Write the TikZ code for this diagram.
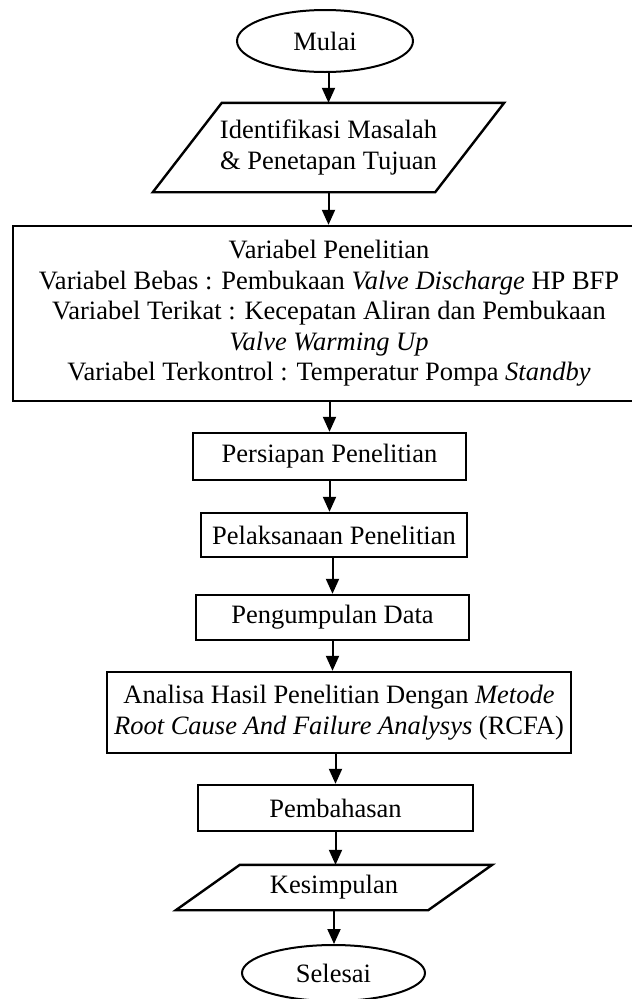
\documentclass[tikz,border=0pt]{standalone}
\usepackage{fontspec}
\setmainfont{Liberation Serif}
\usetikzlibrary{shapes.geometric,arrows.meta}
\begin{document}
\begin{tikzpicture}[x=1pt,y=-1pt,
  every node/.style={font=\fontsize{26.5}{30.5}\selectfont, inner sep=0pt, align=center},
  term/.style={ellipse, draw, line width=2pt},
  procbox/.style={rectangle, draw, line width=2.4pt},
  iobox/.style={rectangle},
  flow/.style={line width=2pt, -{Triangle[length=15pt,width=13pt]}},
  ioline/.style={line width=2.4pt, line join=miter}]
\useasboundingbox (0,0) rectangle (632,999);

\node[term, minimum width=176, minimum height=62] (mulai) at (325,41) {Mulai};

\node[iobox, minimum width=282, minimum height=89] (ident) at (328.5,147.5)
  {Identifikasi Masalah\\ \& Penetapan Tujuan};
\draw[ioline] ([xshift=34.5pt]ident.north west) -- ([xshift=34.5pt]ident.north east)
  -- ([xshift=-34.5pt]ident.south east) -- ([xshift=-34.5pt]ident.south west) -- cycle;

\node[procbox, minimum width=632, minimum height=175] (var) at (329,313.5)
  {Variabel Penelitian\\
   Variabel Bebas : Pembukaan \textit{Valve Discharge} HP BFP\\
   Variabel Terikat : Kecepatan Aliran dan Pembukaan\\
   \textit{Valve Warming Up}\\
   Variabel Terkontrol : Temperatur Pompa \textit{Standby}};

\node[procbox, minimum width=273, minimum height=47] (persiapan) at (329.5,456.5) {Persiapan Penelitian};
\node[procbox, minimum width=266, minimum height=44] (pelaksanaan) at (334,535) {Pelaksanaan Penelitian};
\node[procbox, minimum width=273, minimum height=45] (pengumpulan) at (332.5,617.5) {Pengumpulan Data};
\node[procbox, minimum width=464, minimum height=81] (analisa) at (339,712.5)
  {Analisa Hasil Penelitian Dengan \textit{Metode}\\ \textit{Root Cause And Failure Analysys} (RCFA)};
\node[procbox, minimum width=275, minimum height=46] (bahas) at (335.5,808) {Pembahasan};

\node[iobox, minimum width=252, minimum height=45] (simpul) at (334,887.5) {Kesimpulan};
\draw[ioline] ([xshift=32pt]simpul.north west) -- ([xshift=32pt]simpul.north east)
  -- ([xshift=-32pt]simpul.south east) -- ([xshift=-32pt]simpul.south west) -- cycle;

\node[term, minimum width=183, minimum height=56] (selesai) at (333.5,973) {Selesai};

\draw[flow] (ident.north |- mulai.south) -- (ident.north);
\draw[flow] (ident.south) -- (ident.south |- var.north);
\draw[flow] (persiapan.north |- var.south) -- (persiapan.north);
\draw[flow] (persiapan.south) -- (persiapan.south |- pelaksanaan.north);
\draw[flow] (pengumpulan.north |- pelaksanaan.south) -- (pengumpulan.north);
\draw[flow] (pengumpulan.south) -- (pengumpulan.south |- analisa.north);
\draw[flow] (bahas.north |- analisa.south) -- (bahas.north);
\draw[flow] (bahas.south) -- (bahas.south |- simpul.north);
\draw[flow] (simpul.south) -- (simpul.south |- selesai.north);
\end{tikzpicture}
\end{document}
